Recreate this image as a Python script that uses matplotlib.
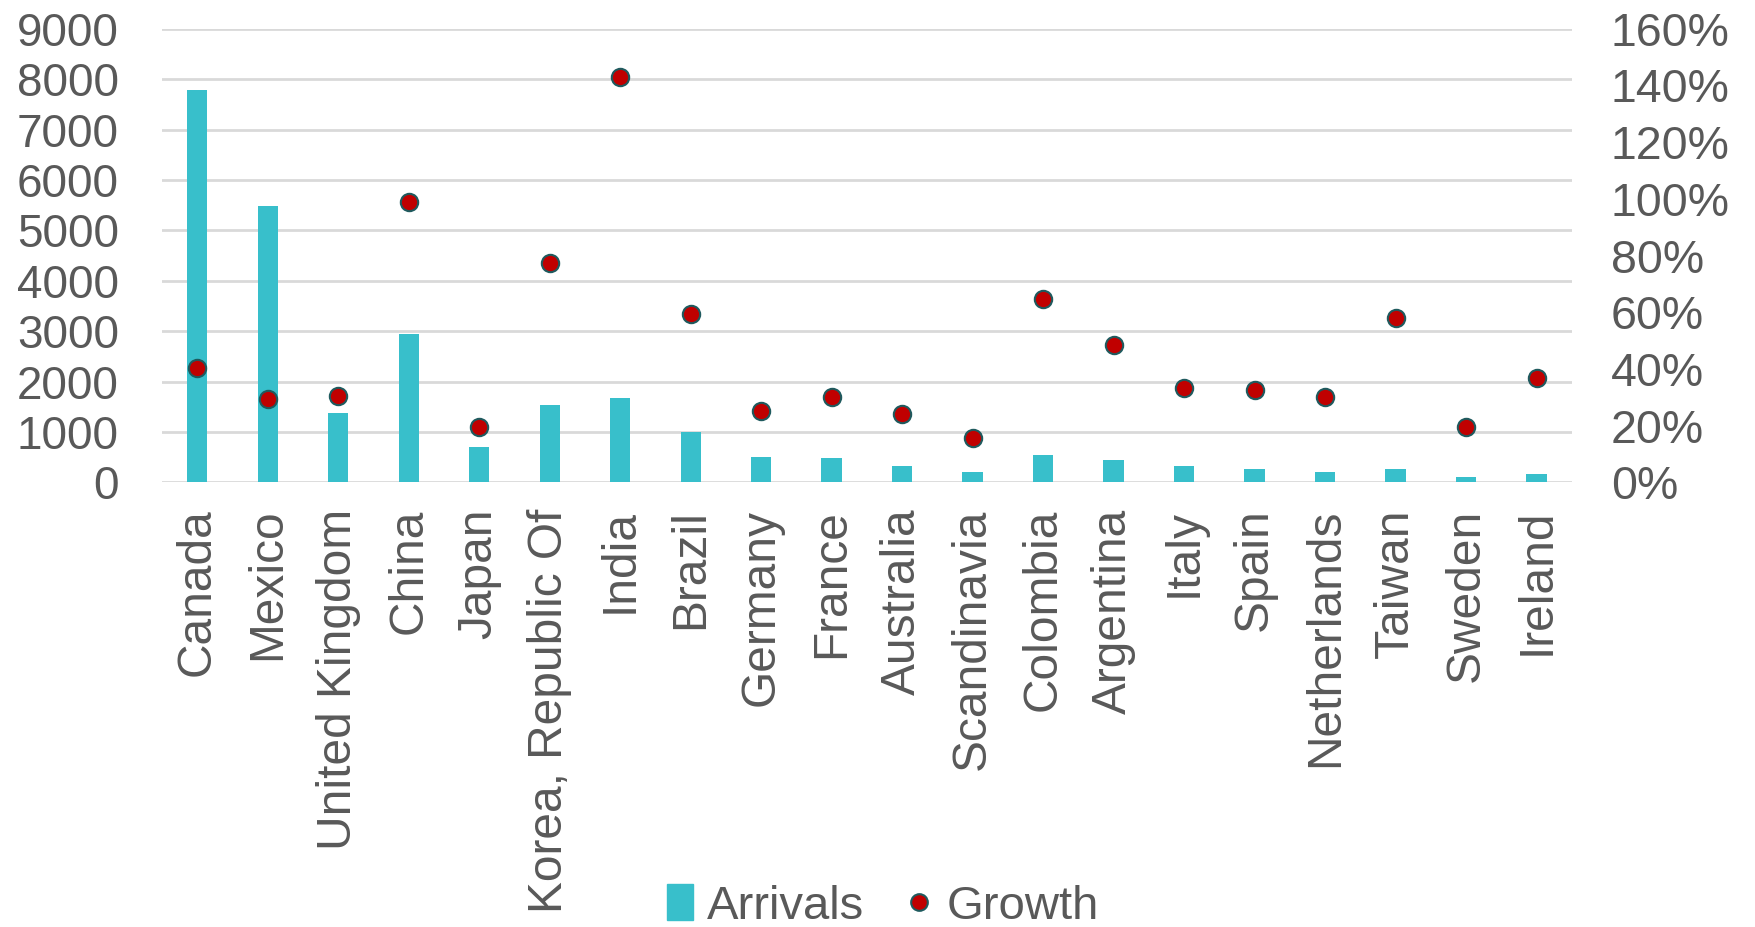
import matplotlib; matplotlib.use("Agg")
import matplotlib.pyplot as plt
import numpy as np
from matplotlib.patches import Patch
from matplotlib.lines import Line2D

plt.rcParams['font.family'] = ['Liberation Sans', 'DejaVu Sans']
TEAL, RED, EDGE, GRID, TXT = "#38BFCB", "#C00000", "#1F5A5E", "#D9D9D9", "#595959"

countries = ["Canada", "Mexico", "United Kingdom", "China", "Japan", "Korea, Republic Of",
             "India", "Brazil", "Germany", "France", "Australia", "Scandinavia", "Colombia",
             "Argentina", "Italy", "Spain", "Netherlands", "Taiwan", "Sweden", "Ireland"]
arrivals = [7780, 5490, 1380, 2935, 695, 1530, 1675, 1000, 510, 485, 325,
            200, 535, 435, 325, 260, 200, 265, 100, 170]
growth = [0.403, 0.294, 0.305, 0.989, 0.196, 0.772, 1.429, 0.594, 0.253, 0.302, 0.241,
          0.156, 0.645, 0.484, 0.333, 0.326, 0.302, 0.578, 0.195, 0.369]

x = np.arange(len(countries))
fig = plt.figure(figsize=(17.55, 9.27), dpi=100)
ax = fig.add_axes([0.0923, 0.4797, 0.8034, 0.4893])
ax.bar(x, arrivals, width=0.29, color=TEAL, zorder=2)
ax.set_ylim(0, 9000); ax.set_yticks(np.arange(0, 9001, 1000))
ax.set_xlim(-0.5, len(countries) - 0.5)
ax.set_xticks(x); ax.set_xticklabels(countries, rotation=90, fontsize=34.5, color=TXT)
ax.grid(axis="y", color=GRID, lw=2, zorder=0)
ax.tick_params(axis="y", labelsize=33, labelcolor=TXT, length=0, pad=31)
ax.tick_params(axis="x", length=0, pad=19)
for s in ax.spines.values(): s.set_visible(False)

ax2 = ax.twinx()
ax2.plot(x, growth, ls="none", marker="o", ms=12.5, mfc=RED, mec=EDGE, mew=1.5, zorder=3)
ax2.set_ylim(0, 1.6); ax2.set_yticks(np.arange(0, 1.61, 0.2))
ax2.set_yticklabels([f"{v*100:.0f}%" for v in np.arange(0, 1.61, 0.2)])
ax2.tick_params(axis="y", labelsize=33.5, labelcolor=TXT, length=0, pad=28)
for s in ax2.spines.values(): s.set_visible(False)

fig.legend(handles=[Patch(color=TEAL, label="Arrivals"),
                    Line2D([], [], ls="none", marker="o", ms=12, mfc=RED, mec=EDGE, mew=1.5, label="Growth")],
           loc="center", bbox_to_anchor=(0.503, 0.022), ncol=2, frameon=False, fontsize=34,
           labelcolor=TXT, handlelength=0.55, handleheight=0.8, handletextpad=0.3, columnspacing=0.9,
           borderpad=0)
fig.savefig("out.png", dpi=100)
